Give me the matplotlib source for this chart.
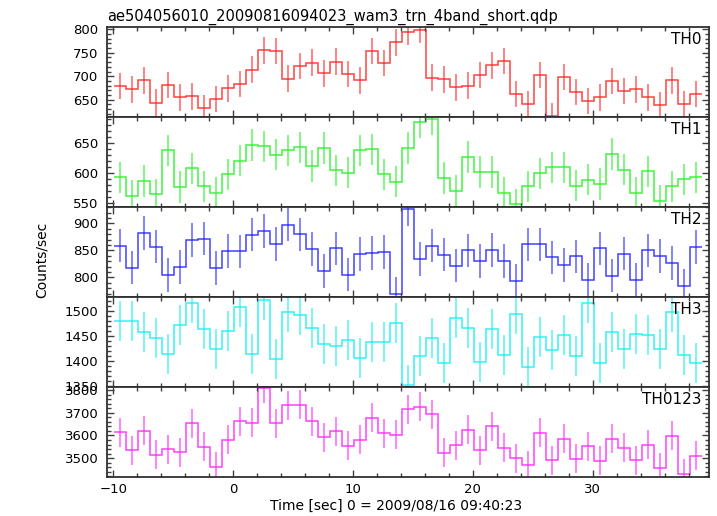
import numpy as np
import matplotlib
matplotlib.use("Agg")
import matplotlib.pyplot as plt
from matplotlib.ticker import MultipleLocator

plt.rcParams['font.family'] = ['DejaVu Sans']

title = "ae504056010_20090816094023_wam3_trn_4band_short.qdp"
xlabel = "Time [sec] 0 = 2009/08/16 09:40:23"
ylabel = "Counts/sec"

bin_start = -9.9
bin_width = 1.0

th0 = [679, 672, 691, 644, 682, 655, 657, 633, 651, 674, 683, 714, 755, 754, 695,
       721, 729, 706, 731, 704, 691, 753, 728, 772, 795, 799, 697, 693, 676, 680,
       702, 723, 733, 662, 641, 702, 616, 699, 667, 647, 655, 690, 669, 672, 655,
       638, 691, 641, 662]
th1 = [593, 562, 587, 565, 638, 577, 608, 578, 567, 598, 621, 647, 645, 631, 638,
       643, 612, 642, 605, 601, 638, 640, 598, 586, 642, 685, 690, 592, 571, 627,
       602, 602, 567, 548, 578, 600, 610, 610, 579, 589, 582, 632, 606, 567, 603,
       554, 578, 590, 593]
th2 = [859, 818, 882, 857, 804, 819, 869, 872, 817, 849, 848, 879, 886, 862, 898,
       880, 853, 812, 854, 805, 843, 845, 847, 769, 927, 834, 859, 842, 822, 850,
       830, 851, 830, 794, 861, 861, 837, 823, 839, 796, 854, 803, 844, 796, 850,
       840, 827, 784, 856]
th3 = [1479, 1480, 1457, 1446, 1414, 1471, 1515, 1463, 1423, 1459, 1508, 1414, 1522,
       1403, 1497, 1492, 1466, 1433, 1430, 1441, 1406, 1437, 1437, 1476, 1351, 1410,
       1446, 1395, 1485, 1465, 1398, 1463, 1412, 1493, 1387, 1447, 1422, 1451, 1409,
       1515, 1395, 1457, 1424, 1453, 1452, 1423, 1497, 1412, 1396]
th0123 = [3615, 3534, 3621, 3515, 3540, 3526, 3653, 3550, 3463, 3582, 3662, 3656,
          3808, 3653, 3732, 3735, 3662, 3593, 3619, 3555, 3581, 3678, 3610, 3603,
          3715, 3726, 3694, 3525, 3556, 3625, 3534, 3641, 3546, 3500, 3469, 3612,
          3490, 3585, 3497, 3553, 3488, 3585, 3547, 3491, 3560, 3458, 3599, 3431, 3511]

errors = [28, 26, 31, 40, 64]
series = [th0, th1, th2, th3, th0123]
names = ["TH0", "TH1", "TH2", "TH3", "TH0123"]
colors = ["#ff2020", "#20f020", "#2020ff", "#10f0f0", "#ff20ff"]
ylims = [(612.6, 804), (543.3, 693.3), (763, 930), (1347, 1527), (3416, 3812)]
ymajor = [50, 50, 50, 50, 100]
yminor = [10, 10, 10, 10, 20]
xlim = (-10.55, 39.7)

W, H = 717, 516
fig = plt.figure(figsize=(W / 100, H / 100), dpi=100)
left, right = 106.7 / W, 709 / W
top_px, panel_h = 27.3, 90.0

axes = []
for i, (vals, name, col) in enumerate(zip(series, names, colors)):
    y0 = top_px + i * panel_h
    ax = fig.add_axes([left, 1 - (y0 + panel_h) / H, right - left, panel_h / H])
    axes.append(ax)
    vals = np.asarray(vals, dtype=float)
    n = len(vals)
    edges = bin_start + bin_width * np.arange(n + 1)
    centers = 0.5 * (edges[:-1] + edges[1:])
    ax.stairs(vals, edges, baseline=None, color=col, lw=1.1, alpha=0.85)
    ax.errorbar(centers, vals, yerr=errors[i], fmt='none', ecolor=col,
                elinewidth=1.1, alpha=0.7, capsize=0)
    ax.set_xlim(*xlim)
    ax.set_ylim(*ylims[i])
    ax.xaxis.set_major_locator(MultipleLocator(10))
    ax.xaxis.set_minor_locator(MultipleLocator(2))
    ax.yaxis.set_major_locator(MultipleLocator(ymajor[i]))
    ax.yaxis.set_minor_locator(MultipleLocator(yminor[i]))
    ax.tick_params(which='both', direction='in', top=True, right=True,
                   color='#404040', width=1.0)
    ax.tick_params(which='major', length=5, labelsize=9.5, pad=4)
    ax.tick_params(which='minor', length=3)
    ax.tick_params(axis='y', pad=6)
    for s in ax.spines.values():
        s.set_color('#303030')
        s.set_linewidth(1.3)
    if i < len(series) - 1:
        ax.tick_params(labelbottom=False)
    ax.text(0.988, 0.95, name, transform=ax.transAxes, ha='right', va='top',
            fontsize=11)

fig.text(left, 1 - 20.5 / H, title, ha='left', va='baseline', fontsize=10.5)
fig.text(396.5 / W, 1 - 510 / H, xlabel, ha='center', va='baseline', fontsize=10)
fig.text(41.5 / W, 1 - 260 / H, ylabel, ha='center', va='center',
         rotation=90, fontsize=10)

fig.savefig("out.png", dpi=100)
